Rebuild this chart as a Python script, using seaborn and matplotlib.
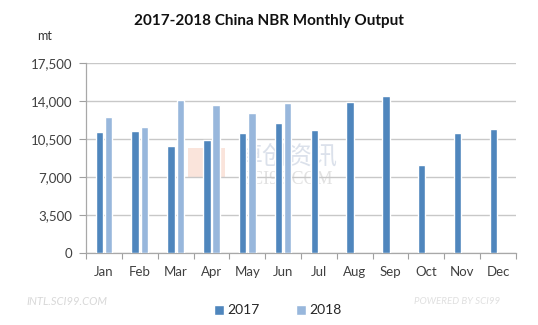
import matplotlib
matplotlib.use("Agg")
import matplotlib.pyplot as plt
import seaborn as sns
import pandas as pd
import numpy as np
from matplotlib.lines import Line2D
from matplotlib.patches import Rectangle

months = ["Jan", "Feb", "Mar", "Apr", "May", "Jun", "Jul", "Aug", "Sep", "Oct", "Nov", "Dec"]
output_2017 = [11150, 11200, 9850, 10450, 11100, 12000, 11300, 13900, 14450, 8100, 11100, 11400]
output_2018 = [12500, 11650, 14050, 13600, 12900, 13800]
y_ticks = [0, 3500, 7000, 10500, 14000, 17500]

rows = []
for m, v in zip(months, output_2017):
    rows.append({"month": m, "year": "2017", "value": v})
for m, v in zip(months, output_2018):
    rows.append({"month": m, "year": "2018", "value": v})
df = pd.DataFrame(rows)

sns.set_theme(style="white")
plt.rcParams['font.family'] = ['Lato', 'DejaVu Sans']

c17 = "#4F86BD"
c18 = "#98B7DC"

fig = plt.figure(figsize=(5.38, 3.25), dpi=100)
ax = fig.add_axes([0.16, 0.2215, 0.799, 0.5845])
ax.patch.set_alpha(0)

# faint watermark behind bars
tf = fig.transFigure
ax.add_patch(Rectangle((0.349, 0.455), 0.069, 0.09, transform=tf,
                       facecolor="#F7D3C4", alpha=0.6, edgecolor="none", zorder=0.2))
ax.text(0.535, 0.518, "卓创资讯", transform=tf, ha="center", va="center", fontsize=18,
        color="#D3DAE6", alpha=0.8, family=["Noto Sans CJK SC", "DejaVu Sans"], zorder=0.2)
ax.text(0.535, 0.447, "SCI99.COM", transform=tf, ha="center", va="center", fontsize=13,
        color="#DADADA", alpha=0.8, family=["Liberation Serif", "DejaVu Serif"], zorder=0.2)

sns.barplot(data=df, x="month", y="value", hue="year", order=months,
            hue_order=["2017", "2018"], palette=[c17, c18],
            width=0.52, gap=0.2, dodge=True, ax=ax, legend=False,
            saturation=1, zorder=3)

ax.set_ylim(0, 17500)
ax.set_xlim(-0.5, 11.5)
ax.set_yticks(y_ticks)
ax.set_yticklabels([f"{t:,}" for t in y_ticks], fontsize=9.5, color="#404040")
ax.yaxis.grid(True, color="#C8C8C8", linewidth=1, zorder=1)
ax.set_axisbelow(True)
ax.set_xlabel("")
ax.set_ylabel("")
ax.set_xticks(range(12))
ax.set_xticklabels(months, fontsize=9.5, color="#404040")
ax.set_xticks(np.arange(-0.5, 12, 1), minor=True)
ax.tick_params(axis="x", which="major", length=0, pad=9)
ax.tick_params(axis="x", which="minor", length=4, color="#A0A0A0", width=0.8, bottom=True)
ax.tick_params(axis="y", length=5, color="#A0A0A0", width=0.8, left=True, pad=5)

for s in ["top", "right"]:
    ax.spines[s].set_visible(False)
for s in ["left", "bottom"]:
    ax.spines[s].set_color("#A8A8A8")
    ax.spines[s].set_linewidth(0.9)

fig.text(0.5, 0.935, "2017-2018 China NBR Monthly Output", ha="center", va="center",
         fontsize=11, fontweight="bold", color="#111111")
fig.text(0.083, 0.89, "mt", ha="center", va="center", fontsize=9, color="#333333")

fig.text(0.125, 0.072, "INTL.SCI99.COM", ha="center", va="center", fontsize=8,
         color="#D8D8D8", style="italic")
fig.text(0.85, 0.072, "POWERED BY SCI99", ha="center", va="center", fontsize=7,
         color="#E0E0E0", style="italic")

handles = [Line2D([0], [0], marker="s", color="w", markerfacecolor=c17, markersize=7, linestyle=""),
           Line2D([0], [0], marker="s", color="w", markerfacecolor=c18, markersize=7, linestyle="")]
fig.legend(handles, ["2017", "2018"], loc="center", bbox_to_anchor=(0.515, 0.045),
           ncol=2, frameon=False, fontsize=10, handletextpad=0.1, columnspacing=2.5,
           handlelength=1.0)

fig.savefig("out.png", dpi=100)
